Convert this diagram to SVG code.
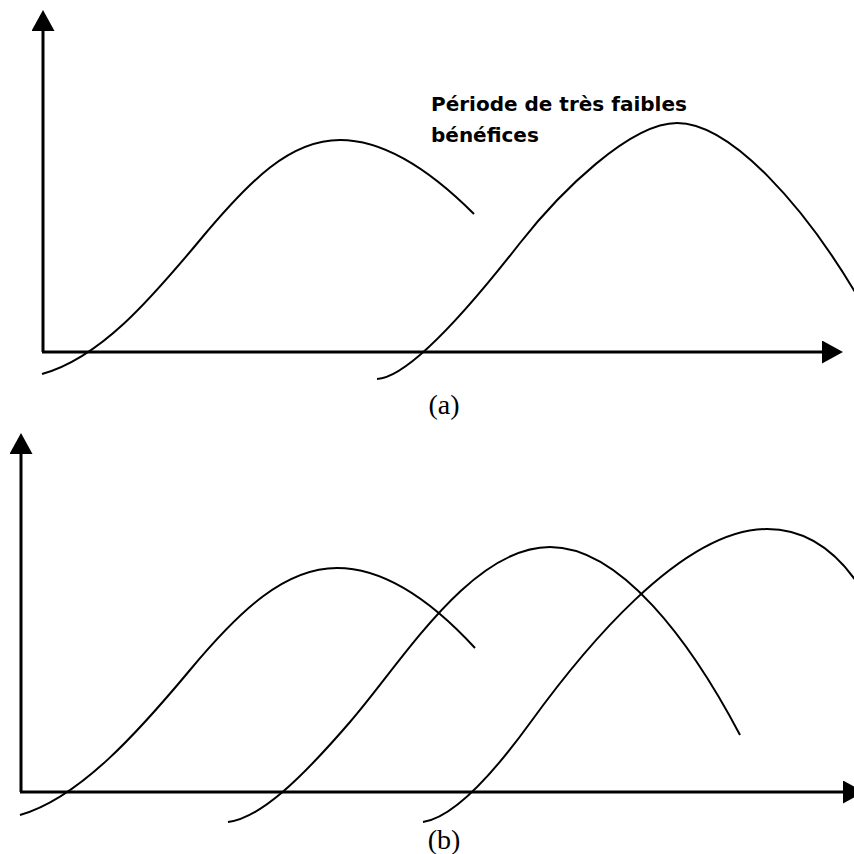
<svg xmlns="http://www.w3.org/2000/svg" width="854" height="854" viewBox="0 0 854 854">
  <style>
    .axis { stroke: #000; stroke-width: 3; fill: none; }
    .curve { stroke: #000; stroke-width: 2; fill: none; }
    .note { font-family: "DejaVu Sans", "Liberation Sans", sans-serif; font-weight: bold; font-size: 20px; fill: #000; }
    .cap { font-family: "Liberation Serif", "Times New Roman", serif; font-size: 28px; fill: #000; text-anchor: middle; }
  </style>
  <defs>
    <marker id="arrow" markerUnits="userSpaceOnUse" markerWidth="22" markerHeight="23" refX="0" refY="11.5" orient="auto">
      <path d="M0,0 L21,11.5 L0,23 Z" fill="#000"/>
    </marker>
  </defs>
  <rect width="854" height="854" fill="#fff"/>

  <g id="panel-a">
    <g id="axes-a">
      <line class="axis" x1="43" y1="352" x2="43" y2="31" marker-end="url(#arrow)"/>
      <line class="axis" x1="42" y1="352" x2="822" y2="352" marker-end="url(#arrow)"/>
    </g>
    <g id="curves-a">
      <path id="a-curve-1" class="curve" d="M42,374 C100,358 150,300 200,240 C250,180 290,140 340,140 C390,140 440,180 474,214"/>
      <path id="a-curve-2" class="curve" d="M377,379 C405,378 460,320 520,243 C560,192 630,123 677,123 C730,123 805,205 862,304"/>
    </g>
    <g id="label-a">
      <text class="note" x="431" y="111">Période de très faibles</text>
      <text class="note" x="431" y="142">bénéfices</text>
    </g>
    <text id="caption-a" class="cap" x="444" y="414">(a)</text>
  </g>

  <g id="panel-b">
    <g id="axes-b">
      <line class="axis" x1="21" y1="792" x2="21" y2="454" marker-end="url(#arrow)"/>
      <line class="axis" x1="20" y1="792" x2="843" y2="792" marker-end="url(#arrow)"/>
    </g>
    <g id="curves-b">
      <path id="b-curve-1" class="curve" d="M20,815 C80,798 140,730 190,670 C240,610 285,568 337,568 C390,568 440,610 475,648"/>
      <path id="b-curve-2" class="curve" d="M228,822 C260,818 300,780 350,722 C400,665 470,547 550,547 C620,547 690,640 740,735"/>
      <path id="b-curve-3" class="curve" d="M423,822 C450,818 485,785 530,723 C580,654 680,529 767,529 C810,529 840,555 862,590"/>
    </g>
    <text id="caption-b" class="cap" x="444" y="849">(b)</text>
  </g>
</svg>
